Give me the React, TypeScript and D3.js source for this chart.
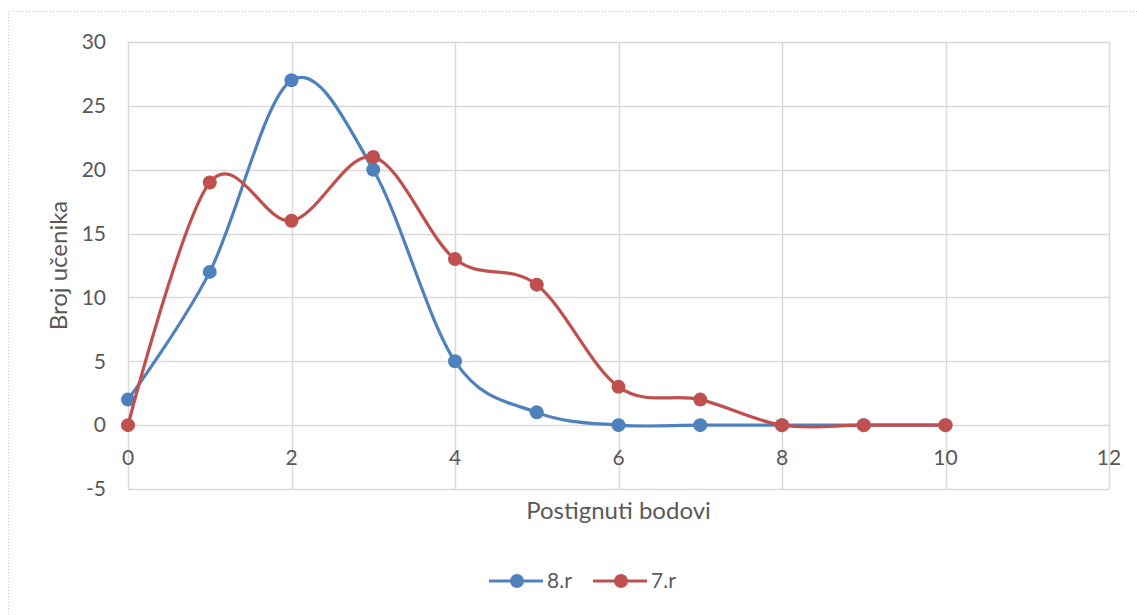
import { useRef, useEffect } from 'react';
import * as d3 from 'd3';

const points = [0, 1, 2, 3, 4, 5, 6, 7, 8, 9, 10];
const grade8 = [2, 12, 27, 20, 5, 1, 0, 0, 0, 0, 0];
const grade7 = [0, 19, 16, 21, 13, 11, 3, 2, 0, 0, 0];
const xTicks = [0, 2, 4, 6, 8, 10, 12];
const yTicks = [-5, 0, 5, 10, 15, 20, 25, 30];
const seriesNames = ['8.r', '7.r'];
const colors = ['#4F81BD', '#C0504D'];

const FONT = 'Lato, "Open Sans", sans-serif';
const TEXT = '#595959';

export default function App() {
  const svgRef = useRef<SVGSVGElement>(null);
  const width = 1137;
  const height = 615;

  useEffect(() => {
    const svg = d3.select(svgRef.current);
    svg.selectAll('*').remove();

    // chart frame (dotted)
    svg.append('path')
      .attr('d', `M8.5,${height} L8.5,11.5 L${width},11.5`)
      .attr('fill', 'none').attr('stroke', '#c8c8c8')
      .attr('stroke-width', 1).attr('stroke-dasharray', '1,2');

    const x = d3.scaleLinear().domain([0, 12]).range([128, 1109]);
    const y = d3.scaleLinear().domain([-5, 30]).range([489, 42]);

    const g = svg.append('g');

    // gridlines
    yTicks.forEach(t => {
      g.append('line')
        .attr('x1', x(0)).attr('x2', x(12))
        .attr('y1', Math.round(y(t)) + 0.5).attr('y2', Math.round(y(t)) + 0.5)
        .attr('stroke', '#d9d9d9').attr('stroke-width', 1.5);
    });
    xTicks.forEach(t => {
      g.append('line')
        .attr('x1', Math.round(x(t)) + 0.5).attr('x2', Math.round(x(t)) + 0.5)
        .attr('y1', y(30)).attr('y2', y(-5))
        .attr('stroke', '#d9d9d9').attr('stroke-width', 1.5);
    });

    // y tick labels
    yTicks.forEach(t => {
      g.append('text')
        .attr('x', 106).attr('y', y(t))
        .attr('dy', '0.35em').attr('text-anchor', 'end')
        .attr('fill', TEXT).attr('font-family', FONT).attr('font-size', 21)
        .text(t);
    });

    // x tick labels (at the y=0 crossing)
    xTicks.forEach(t => {
      g.append('text')
        .attr('x', x(t)).attr('y', y(0) + 40)
        .attr('text-anchor', 'middle')
        .attr('fill', TEXT).attr('font-family', FONT).attr('font-size', 21)
        .text(t);
    });

    // axis titles
    g.append('text')
      .attr('x', (x(0) + x(12)) / 2).attr('y', 519)
      .attr('text-anchor', 'middle')
      .attr('fill', TEXT).attr('font-family', FONT).attr('font-size', 24)
      .text('Postignuti bodovi');
    g.append('text')
      .attr('transform', `translate(67,${(y(30) + y(-5)) / 2}) rotate(-90)`)
      .attr('text-anchor', 'middle')
      .attr('fill', TEXT).attr('font-family', FONT).attr('font-size', 24)
      .text('Broj učenika');

    const line = d3.line<number>()
      .x((_, i) => x(points[i]))
      .y(d => y(d))
      .curve(d3.curveCardinal.tension(0));

    [grade8, grade7].forEach((series, si) => {
      g.append('path').datum(series)
        .attr('d', line).attr('fill', 'none')
        .attr('stroke', colors[si]).attr('stroke-width', 3.2)
        .attr('stroke-linejoin', 'round').attr('stroke-linecap', 'round');
      g.selectAll(null).data(series).enter().append('circle')
        .attr('cx', (_, i) => x(points[i])).attr('cy', d => y(d))
        .attr('r', 7).attr('fill', colors[si]);
    });

    // legend
    const legendX = [489, 593];
    seriesNames.forEach((name, i) => {
      const lx = legendX[i];
      const ly = 581;
      g.append('line')
        .attr('x1', lx).attr('x2', lx + 54).attr('y1', ly).attr('y2', ly)
        .attr('stroke', colors[i]).attr('stroke-width', 3.2);
      g.append('circle').attr('cx', lx + 28).attr('cy', ly).attr('r', 7).attr('fill', colors[i]);
      g.append('text')
        .attr('x', lx + 58).attr('y', ly).attr('dy', '0.35em')
        .attr('fill', TEXT).attr('font-family', FONT).attr('font-size', 21)
        .text(name);
    });
  }, []);

  return (
    <svg ref={svgRef} width={width} height={height}
      style={{ display: 'block', position: 'absolute', left: 0, top: 0, background: '#fff' }} />
  );
}
